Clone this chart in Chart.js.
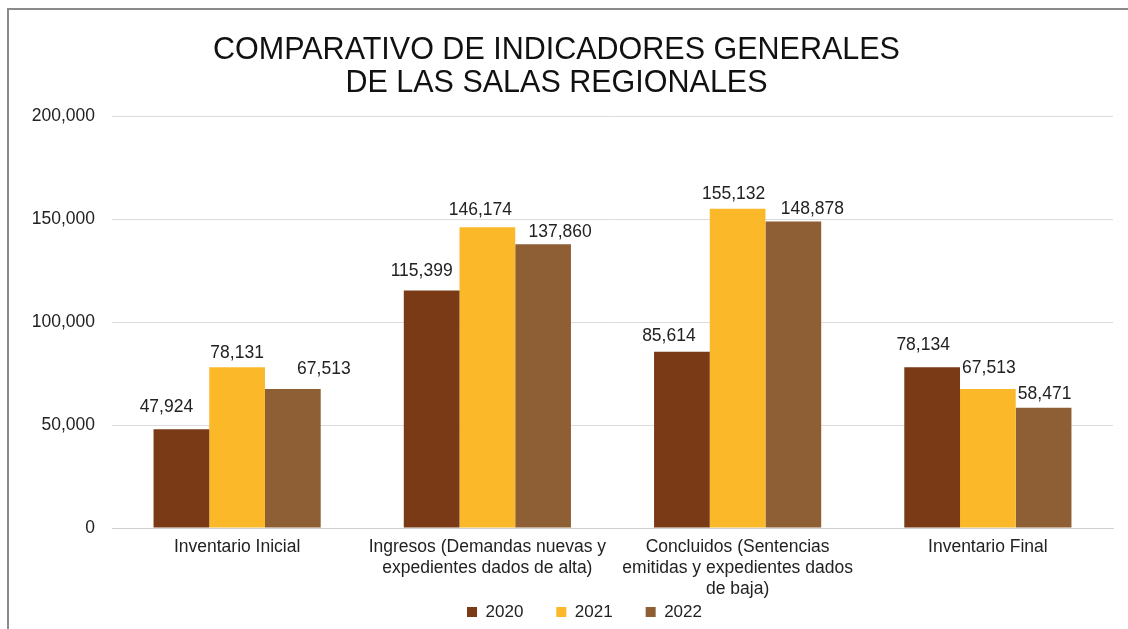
<!DOCTYPE html>
<html>
<head>
<meta charset="utf-8">
<script src="https://cdn.jsdelivr.net/npm/chart.js@4.4.0/dist/chart.umd.min.js"></script>
<style>
  html, body { margin: 0; padding: 0; background: #ffffff; }
  #wrap { position: relative; width: 1128px; height: 629px; }
  canvas { display: block; }
</style>
</head>
<body>
<div id="wrap"><canvas id="c" width="1128" height="629"></canvas></div>
<script>
const categories = [
  'Inventario Inicial',
  ['Ingresos (Demandas nuevas y', 'expedientes dados de alta)'],
  ['Concluidos (Sentencias', 'emitidas y expedientes dados', 'de baja)'],
  'Inventario Final'
];
const seriesNames = ['2020', '2021', '2022'];
const values2020 = [47924, 115399, 85614, 78134];
const values2021 = [78131, 146174, 155132, 67513];
const values2022 = [67513, 137860, 148878, 58471];
const yTicks = [0, 50000, 100000, 150000, 200000];
const titleLines = ['COMPARATIVO DE INDICADORES GENERALES', 'DE LAS SALAS REGIONALES'];

// label nudges (style only): horizontal shift and height above bar top
const labelDx = [[-15, -10, -13, -9], [0, -7, -4, 1], [31, 17, 19, 1]];
const labelDy = [[22, 19, 16, 22], [14, 17, 15, 21], [20, 12, 12, 13]];

const colors = ['#7a3a16', '#fbb829', '#8e5f35'];
const FONT = "'Liberation Sans', Arial, sans-serif";
const LEGEND_PAD = 33;
const LEGEND_FONT = 17;

const fmt = v => Number(v).toLocaleString('en-US');

const frame = {
  id: 'frame',
  beforeDraw(chart) {
    const ctx = chart.ctx;
    ctx.save();
    ctx.fillStyle = '#ffffff';
    ctx.fillRect(0, 0, chart.width, chart.height);
    ctx.strokeStyle = '#8a8a8a';
    ctx.lineWidth = 2;
    ctx.beginPath();
    ctx.moveTo(8, chart.height);
    ctx.lineTo(8, 9);
    ctx.lineTo(chart.width, 9);
    ctx.stroke();
    ctx.restore();
  }
};

// compact legend: small reserved height, placed just under the category labels
const legendPlace = {
  id: 'legendPlace',
  afterInit(chart) {
    const lg = chart.legend;
    if (lg && !lg._wrappedFit) {
      const orig = lg.fit.bind(lg);
      lg.fit = function () { orig(); this.height = 29; };
      lg._wrappedFit = true;
    }
  },
  afterLayout(chart) {
    const lg = chart.legend;
    if (!lg) return;
    const top = 612 - LEGEND_PAD - LEGEND_FONT / 2;
    lg.top = top;
    lg.height = chart.height - top;
    lg.bottom = chart.height;
    lg.left += 28; lg.right += 28;
  }
};

const dataLabels = {
  id: 'dataLabels',
  afterDatasetsDraw(chart) {
    const ctx = chart.ctx;
    ctx.save();
    ctx.font = '17.5px ' + FONT;
    ctx.fillStyle = '#222222';
    ctx.textAlign = 'center';
    ctx.textBaseline = 'middle';
    chart.data.datasets.forEach((ds, di) => {
      const meta = chart.getDatasetMeta(di);
      meta.data.forEach((el, i) => {
        ctx.fillText(fmt(ds.data[i]), el.x + labelDx[di][i], el.y - labelDy[di][i]);
      });
    });
    ctx.restore();
  }
};

new Chart(document.getElementById('c'), {
  type: 'bar',
  data: {
    labels: categories,
    datasets: [
      { label: seriesNames[0], data: values2020, backgroundColor: colors[0] },
      { label: seriesNames[1], data: values2021, backgroundColor: colors[1] },
      { label: seriesNames[2], data: values2022, backgroundColor: colors[2] }
    ]
  },
  options: {
    responsive: false,
    animation: false,
    devicePixelRatio: 1,
    layout: { padding: { left: 0, right: 15, top: 0, bottom: 0 } },
    datasets: { bar: { categoryPercentage: 0.668, barPercentage: 1.0 } },
    plugins: {
      title: {
        display: true,
        text: titleLines,
        color: '#111111',
        font: { family: FONT, size: 30.5, weight: 'normal', lineHeight: 1.08 },
        padding: { top: 34.5, bottom: 16 }
      },
      legend: {
        position: 'bottom',
        labels: {
          color: '#222222',
          font: { family: FONT, size: LEGEND_FONT },
          boxWidth: 10,
          boxHeight: 10,
          padding: LEGEND_PAD
        }
      },
      tooltip: { enabled: false }
    },
    scales: {
      x: {
        afterFit(scale) { scale.height = 72; },
        grid: { display: false, drawTicks: false },
        border: { color: '#d0d0d0', width: 1 },
        ticks: {
          color: '#222222',
          font: { family: FONT, size: 17.5, lineHeight: 1.2 },
          padding: 9,
          maxRotation: 0,
          autoSkip: false
        }
      },
      y: {
        min: 0,
        max: 200000,
        afterBuildTicks(scale) { scale.ticks = yTicks.map(v => ({ value: v })); },
        afterFit(scale) { scale.width = 112; },
        grid: { color: '#dcdcdc', drawTicks: false },
        border: { display: false },
        ticks: {
          color: '#222222',
          font: { family: FONT, size: 17.5 },
          padding: 17,
          callback: v => fmt(v)
        }
      }
    }
  },
  plugins: [frame, legendPlace, dataLabels]
});
</script>
</body>
</html>
